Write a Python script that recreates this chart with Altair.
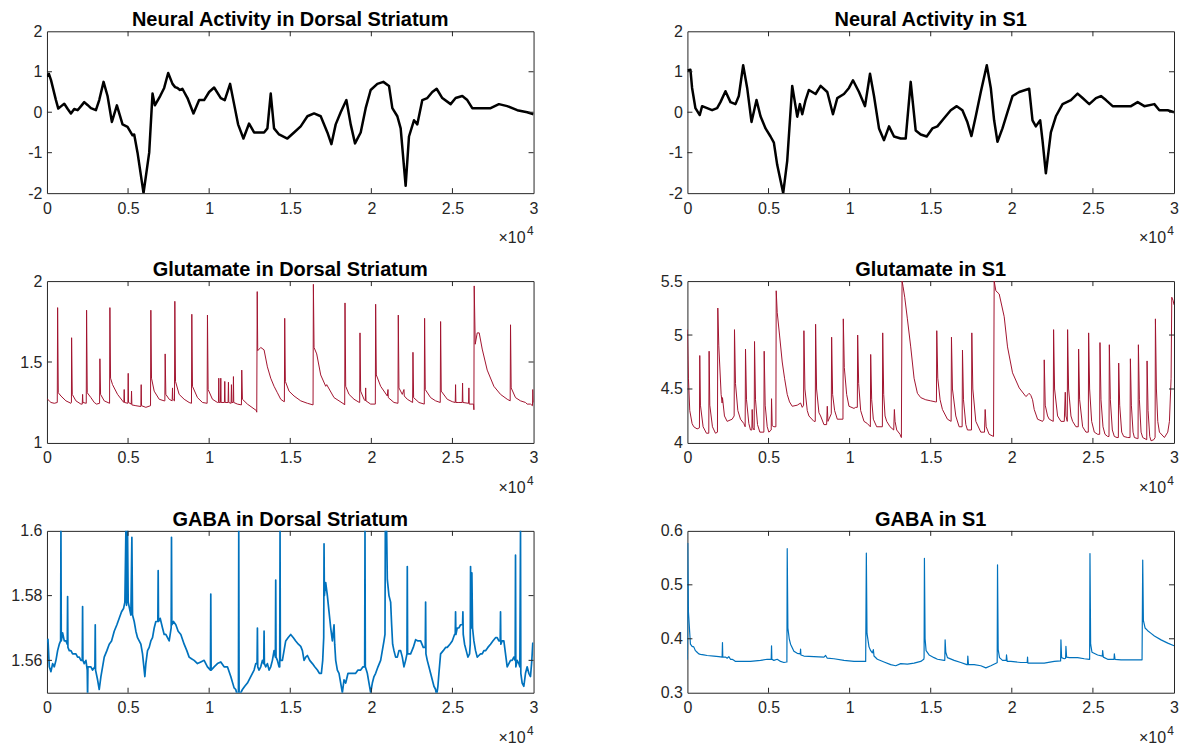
import altair as alt
import pandas as pd

# ---------------------------------------------------------------- data
# (sample index, value) pairs for each recorded trace

NA_DS = [(0, 0.88), (120, 0.95), (246, 0.80), (554, 0.30), (698, 0.09), (880, 0.15), (1068, 0.21),
         (1280, 0.08), (1478, -0.03), (1680, 0.08), (1889, 0.05), (2100, 0.15), (2299, 0.25),
         (2500, 0.18), (2710, 0.10), (3018, 0.05), (3223, 0.30), (3490, 0.75), (3736, 0.40),
         (4003, -0.24), (4311, 0.17), (4660, -0.30), (4968, -0.36), (5276, -0.57), (5379, -0.55),
         (5584, -1.00), (5954, -2.00), (6303, -1.00), (6508, 0.46), (6652, 0.17), (6980, 0.40),
         (7227, 0.60), (7473, 0.97), (7740, 0.70), (7900, 0.62), (8048, 0.60), (8200, 0.55),
         (8350, 0.58), (8458, 0.50), (8664, 0.35),
         (9033, -0.03), (9382, 0.30), (9690, 0.30), (9998, 0.50), (10306, 0.61), (10717, 0.35),
         (10963, 0.30), (11292, 0.70), (11538, 0.20), (11784, -0.30), (12113, -0.65), (12462, -0.28),
         (12770, -0.50), (13386, -0.50), (13591, -0.40), (13796, 0.46), (14001, -0.40), (14309, -0.55),
         (14822, -0.65), (15233, -0.50), (15644, -0.35), (16057, -0.10), (16468, -0.03), (16878, -0.10),
         (17289, -0.50), (17536, -0.79), (17802, -0.30), (18110, 0.00), (18460, 0.30), (18726, -0.30),
         (18993, -0.77), (19342, -0.50), (19650, 0.10), (19958, 0.55), (20369, 0.70), (20739, 0.75),
         (21088, 0.65), (21294, 0.10), (21602, -0.10), (21808, -0.40), (22114, -1.82), (22320, -0.60),
         (22628, -0.20), (22834, -0.30), (23142, 0.30), (23450, 0.35), (23758, 0.50), (24025, 0.58),
         (24374, 0.35), (24888, 0.20), (25196, 0.35), (25606, 0.40), (25914, 0.30), (26222, 0.10),
         (26736, 0.10), (27352, 0.10), (27866, 0.20), (28379, 0.15), (28995, 0.05), (29611, 0.00),
         (30000, -0.05)]

NA_S1 = [(0, 1.03), (185, 1.05), (288, 0.60), (494, 0.10), (761, -0.07), (906, 0.15), (1214, 0.10),
         (1523, 0.05), (1832, 0.10), (2037, 0.25), (2346, 0.52), (2655, 0.25), (2964, 0.20),
         (3169, 0.40), (3437, 1.16), (3684, 0.60), (3951, -0.24), (4260, 0.30), (4507, -0.10),
         (4816, -0.40), (5124, -0.60), (5330, -0.75), (5536, -1.30), (5906, -2.00), (6153, -1.20),
         (6462, 0.65), (6771, -0.11), (6935, 0.20), (7080, -0.05), (7285, 0.30), (7491, 0.55),
         (7903, 0.45), (8211, 0.65), (8623, 0.50), (8973, -0.05), (9240, 0.35), (9652, 0.45),
         (9961, 0.60), (10208, 0.79), (10578, 0.50), (10949, 0.15), (11257, 0.95), (11504, 0.40),
         (11813, -0.40), (12121, -0.69), (12430, -0.35), (12739, -0.60), (13150, -0.65), (13457, -0.65),
         (13766, 0.75), (14074, -0.45), (14383, -0.55), (14753, -0.60), (15103, -0.40), (15412, -0.35),
         (15823, -0.15), (16235, 0.05), (16605, 0.15), (16955, 0.05), (17264, -0.25), (17511, -0.59),
         (17778, -0.10), (18087, 0.50), (18457, 1.16), (18704, 0.60), (18910, -0.20), (19116, -0.73),
         (19424, -0.40), (19733, 0.00), (20042, 0.40), (20453, 0.50), (21070, 0.58), (21276, -0.20),
         (21482, -0.35), (21750, -0.20), (21894, -0.70), (22099, -1.51), (22408, -0.50), (22717, -0.10),
         (23129, 0.20), (23643, 0.30), (24055, 0.46), (24364, 0.35), (24775, 0.20), (25187, 0.35),
         (25495, 0.40), (25804, 0.30), (26216, 0.15), (26730, 0.15), (27347, 0.15), (27759, 0.25),
         (28171, 0.15), (28788, 0.20), (29097, 0.05), (29611, 0.05), (30000, 0.00)]

GLU_DS = [(0, 1.27), (41, 1.27), (144, 1.26), (246, 1.25), (452, 1.245), (636, 1.25), (657, 1.836),
          (698, 1.31), (862, 1.29), (1170, 1.26), (1478, 1.245), (1509, 1.25), (1519, 1.65),
          (1560, 1.30), (1786, 1.26), (2094, 1.24), (2176, 1.24), (2197, 1.30), (2217, 1.25),
          (2423, 1.245), (2443, 1.82), (2484, 1.31), (2710, 1.28), (2915, 1.25), (3059, 1.24),
          (3244, 1.245), (3264, 1.52), (3305, 1.30), (3531, 1.26), (3860, 1.245), (3880, 1.836),
          (3921, 1.40), (4044, 1.36), (4352, 1.30), (4660, 1.26), (4742, 1.25), (4763, 1.33),
          (4783, 1.25), (4989, 1.245), (5009, 1.43), (5030, 1.25), (5194, 1.24), (5215, 1.32),
          (5235, 1.235), (5482, 1.23), (5789, 1.225), (5810, 1.36), (5831, 1.23), (6097, 1.22),
          (6385, 1.23), (6405, 1.82), (6446, 1.40), (6611, 1.32), (6919, 1.27), (7227, 1.26),
          (7268, 1.26), (7288, 1.55), (7329, 1.30), (7535, 1.27), (7719, 1.26), (7740, 1.34),
          (7760, 1.27), (7863, 1.26), (7884, 1.875), (7925, 1.38), (8150, 1.30), (8458, 1.27),
          (8766, 1.25), (8910, 1.245), (8931, 1.795), (8972, 1.35), (9280, 1.28), (9588, 1.25),
          (9875, 1.245), (9895, 1.79), (9937, 1.33), (10203, 1.27), (10511, 1.25), (10573, 1.25),
          (10593, 1.40), (10614, 1.25), (10696, 1.25), (10717, 1.40), (10737, 1.25), (10942, 1.25),
          (10963, 1.38), (10984, 1.25), (11168, 1.25), (11189, 1.375), (11209, 1.25), (11353, 1.245),
          (11374, 1.36), (11394, 1.25), (11476, 1.25), (11497, 1.41), (11517, 1.25), (11743, 1.24),
          (11990, 1.235), (12010, 1.45), (12051, 1.27), (12359, 1.24), (12913, 1.20), (12934, 1.19),
          (12964, 1.935), (12995, 1.57), (13180, 1.59), (13386, 1.575), (13591, 1.47), (13796, 1.40),
          (14001, 1.35), (14207, 1.31), (14412, 1.27), (14617, 1.255), (14638, 1.255), (14658, 1.77),
          (14699, 1.38), (14925, 1.32), (15233, 1.29), (15646, 1.26), (16057, 1.245), (16406, 1.235),
          (16426, 1.98), (16467, 1.59), (16631, 1.55), (16878, 1.42), (17186, 1.35), (17247, 1.36),
          (17699, 1.28), (18007, 1.26), (18315, 1.24), (18356, 1.235), (18376, 1.865), (18418, 1.35),
          (18623, 1.30), (18931, 1.27), (19259, 1.25), (19280, 1.25), (19300, 1.68), (19341, 1.32),
          (19547, 1.27), (19629, 1.26), (19649, 1.34), (19670, 1.26), (19957, 1.24), (20245, 1.24),
          (20265, 1.857), (20306, 1.42), (20573, 1.35), (20984, 1.29), (21025, 1.33), (21045, 1.28),
          (21394, 1.25), (21641, 1.245), (21661, 1.79), (21702, 1.34), (21908, 1.30), (22010, 1.33),
          (22031, 1.29), (22216, 1.27), (22544, 1.25), (22565, 1.56), (22606, 1.28), (22934, 1.25),
          (23263, 1.24), (23283, 1.77), (23324, 1.33), (23653, 1.28), (23961, 1.26), (24248, 1.25),
          (24269, 1.75), (24310, 1.32), (24679, 1.27), (24987, 1.255), (25172, 1.25), (25192, 1.36),
          (25213, 1.25), (25398, 1.25), (25603, 1.25), (25624, 1.37), (25644, 1.25), (25993, 1.245),
          (26014, 1.34), (26034, 1.24), (26301, 1.24), (26322, 1.205), (26342, 1.97), (26404, 1.61),
          (26527, 1.68), (26650, 1.68), (26835, 1.58), (27143, 1.45), (27553, 1.35), (27964, 1.30),
          (28375, 1.27), (28559, 1.26), (28580, 1.73), (28621, 1.34), (28888, 1.28), (29196, 1.26),
          (29504, 1.25), (29606, 1.24), (29812, 1.24), (29935, 1.23), (29955, 1.33), (30000, 1.25)]

GLU_S1 = [(0, 5.05), (62, 4.60), (144, 4.30), (288, 4.18), (391, 4.15), (597, 4.13), (741, 4.14),
          (761, 4.81), (803, 4.35), (967, 4.15), (1173, 4.09), (1317, 4.09), (1338, 4.85), (1379, 4.35),
          (1544, 4.15), (1729, 4.09), (1852, 4.10), (1873, 5.25), (1935, 4.90), (2079, 4.45),
          (2140, 4.37), (2161, 4.42), (2284, 4.25), (2449, 4.20), (2758, 4.22), (2881, 4.25),
          (2902, 5.05), (2964, 4.55), (3108, 4.30), (3272, 4.22), (3478, 4.18), (3560, 4.15),
          (3581, 4.87), (3643, 4.40), (3787, 4.18), (3890, 4.12), (3972, 4.12), (3993, 4.31),
          (4034, 4.14), (4116, 4.12), (4137, 4.94), (4198, 4.40), (4322, 4.17), (4466, 4.10),
          (4713, 4.10), (4733, 4.85), (4795, 4.35), (4919, 4.15), (5022, 4.10), (5166, 4.12),
          (5186, 4.41), (5227, 4.16), (5330, 4.15), (5454, 4.15), (5474, 5.41), (5536, 5.21),
          (5680, 5.00), (5845, 4.75), (5989, 4.60), (6153, 4.45), (6297, 4.38), (6462, 4.34),
          (6771, 4.35), (6977, 4.37), (7080, 4.33), (7162, 4.35), (7182, 5.04), (7244, 4.50),
          (7388, 4.30), (7491, 4.25), (7800, 4.20), (7882, 4.20), (7903, 5.10), (7964, 4.50),
          (8108, 4.28), (8211, 4.25), (8417, 4.17), (8582, 4.17), (8623, 4.34), (8664, 4.20),
          (8870, 4.27), (8891, 4.98), (8952, 4.45), (9076, 4.30), (9240, 4.22), (9405, 4.22),
          (9590, 4.22), (9611, 5.15), (9673, 4.70), (9817, 4.45), (9961, 4.34), (10270, 4.32),
          (10372, 4.33), (10475, 4.33), (10496, 5.00), (10558, 4.55), (10681, 4.30), (10887, 4.20),
          (11093, 4.18), (11278, 4.15), (11299, 4.82), (11360, 4.40), (11463, 4.22), (11669, 4.15),
          (11875, 4.15), (12019, 4.15), (12040, 5.02), (12101, 4.45), (12184, 4.25), (12287, 4.20),
          (12492, 4.15), (12719, 4.12), (12760, 4.31), (12801, 4.20), (12904, 4.12), (13110, 4.08),
          (13151, 4.06), (13192, 4.05), (13233, 5.50), (13295, 5.45), (13398, 5.35), (13562, 5.15),
          (13768, 4.89), (13974, 4.60), (14180, 4.46), (14385, 4.42), (14694, 4.40), (15003, 4.39),
          (15312, 4.38), (15353, 4.38), (15373, 5.04), (15435, 4.60), (15579, 4.40), (15723, 4.31),
          (16032, 4.22), (16258, 4.20), (16279, 4.98), (16341, 4.50), (16546, 4.25), (16752, 4.15),
          (16937, 4.15), (16958, 4.86), (17020, 4.40), (17164, 4.17), (17267, 4.12), (17514, 4.12),
          (17534, 5.02), (17596, 4.50), (17781, 4.20), (18090, 4.10), (18316, 4.10), (18357, 4.31),
          (18419, 4.15), (18604, 4.08), (18872, 4.06), (18913, 5.50), (19016, 5.41), (19222, 5.38),
          (19530, 5.17), (19736, 4.89), (20044, 4.65), (20456, 4.51), (20867, 4.43), (21011, 4.45),
          (21073, 4.46), (21176, 4.44), (21279, 4.40), (21382, 4.31), (21588, 4.22), (21896, 4.20),
          (21978, 4.22), (21999, 4.77), (22061, 4.35), (22205, 4.25), (22308, 4.22), (22555, 4.20),
          (22575, 5.05), (22637, 4.50), (22822, 4.25), (23028, 4.20), (23234, 4.20), (23296, 4.47),
          (23337, 4.25), (23419, 4.20), (23440, 5.05), (23501, 4.50), (23646, 4.25), (23749, 4.20),
          (23954, 4.15), (24098, 4.15), (24119, 4.87), (24181, 4.40), (24366, 4.15), (24572, 4.10),
          (24716, 4.10), (24736, 5.02), (24798, 4.50), (24922, 4.20), (25086, 4.10), (25292, 4.08),
          (25416, 4.08), (25436, 4.93), (25498, 4.40), (25622, 4.15), (25745, 4.08), (25910, 4.06),
          (25992, 4.06), (26013, 4.91), (26075, 4.40), (26198, 4.12), (26322, 4.06), (26486, 4.05),
          (26569, 4.05), (26590, 4.74), (26651, 4.35), (26775, 4.10), (26898, 4.06), (27145, 4.05),
          (27289, 4.05), (27310, 4.78), (27372, 4.35), (27475, 4.10), (27557, 4.05), (27763, 4.04),
          (27783, 4.04), (27804, 4.91), (27866, 4.40), (27969, 4.10), (28072, 4.05), (28319, 4.03),
          (28339, 4.76), (28401, 4.30), (28504, 4.06), (28586, 4.02), (28751, 4.03), (28833, 4.05),
          (28854, 5.15), (28915, 4.50), (28998, 4.20), (29101, 4.10), (29409, 4.05), (29615, 4.10),
          (29718, 4.20), (29821, 4.60), (29862, 5.35), (29944, 5.32), (30000, 5.28)]

GABA_DS = [(0, 1.5655), (62, 1.5665), (144, 1.558), (246, 1.5565), (349, 1.559), (452, 1.558),
           (554, 1.560), (657, 1.563), (760, 1.565), (842, 1.566), (862, 1.600), (883, 1.566),
           (965, 1.5685), (1068, 1.566), (1170, 1.566), (1252, 1.565), (1273, 1.5797), (1293, 1.564),
           (1376, 1.563), (1478, 1.563), (1581, 1.562), (1786, 1.562), (1889, 1.561), (1991, 1.561),
           (2094, 1.560), (2176, 1.560), (2197, 1.5766), (2217, 1.560), (2299, 1.559), (2402, 1.560),
           (2484, 1.557), (2505, 1.548), (2525, 1.558), (2607, 1.558), (2710, 1.558), (2813, 1.557),
           (2956, 1.558), (2977, 1.571), (2997, 1.557), (3121, 1.554), (3223, 1.551), (3326, 1.555),
           (3429, 1.558), (3531, 1.561), (3695, 1.563), (3839, 1.565), (3983, 1.566), (4147, 1.569),
           (4311, 1.571), (4455, 1.573), (4599, 1.575), (4722, 1.576), (4804, 1.578), (4866, 1.600),
           (4907, 1.577), (4968, 1.600), (5009, 1.578), (5091, 1.576), (5174, 1.574), (5235, 1.598),
           (5276, 1.574), (5379, 1.572), (5482, 1.569), (5584, 1.567), (5687, 1.566), (5789, 1.565),
           (5892, 1.562), (6036, 1.555), (6097, 1.559), (6200, 1.563), (6303, 1.564), (6405, 1.566),
           (6508, 1.567), (6611, 1.570), (6713, 1.572), (6836, 1.572), (6857, 1.5877), (6878, 1.572),
           (6980, 1.573), (7124, 1.570), (7227, 1.568), (7329, 1.568), (7432, 1.567), (7535, 1.566),
           (7658, 1.570), (7678, 1.598), (7699, 1.571), (7801, 1.572), (7945, 1.571), (8089, 1.569),
           (8253, 1.568), (8458, 1.565), (8623, 1.563), (8766, 1.561), (8910, 1.5605), (9074, 1.560),
           (9280, 1.559), (9485, 1.5595), (9690, 1.560), (9895, 1.558), (10080, 1.557), (10100, 1.5805),
           (10121, 1.557), (10306, 1.558), (10511, 1.559), (10717, 1.5595), (10922, 1.558),
           (11127, 1.558), (11333, 1.555), (11538, 1.5515), (11641, 1.551), (11743, 1.549),
           (11805, 1.549), (11825, 1.600), (11846, 1.549), (11948, 1.550), (12051, 1.551),
           (12195, 1.552), (12359, 1.553), (12564, 1.555), (12770, 1.557), (12872, 1.559),
           (12954, 1.559), (12975, 1.570), (12995, 1.558), (13077, 1.557), (13180, 1.558),
           (13283, 1.560), (13365, 1.559), (13386, 1.569), (13406, 1.559), (13488, 1.558),
           (13591, 1.559), (13694, 1.557), (13796, 1.558), (13899, 1.560), (14001, 1.563),
           (14083, 1.561), (14104, 1.5848), (14124, 1.561), (14207, 1.560), (14309, 1.558),
           (14350, 1.558), (14371, 1.600), (14391, 1.560), (14515, 1.560), (14617, 1.563),
           (14720, 1.566), (14863, 1.567), (15028, 1.568), (15192, 1.567), (15336, 1.566),
           (15500, 1.565), (15646, 1.5643), (15749, 1.563), (15851, 1.560), (15954, 1.561),
           (16057, 1.5615), (16200, 1.560), (16365, 1.559), (16508, 1.558), (16673, 1.557),
           (16796, 1.556), (16919, 1.556), (17001, 1.560), (17063, 1.567), (17083, 1.596),
           (17104, 1.580), (17186, 1.584), (17288, 1.580), (17391, 1.575), (17494, 1.570),
           (17596, 1.566), (17699, 1.571), (17740, 1.565), (17802, 1.560), (17904, 1.557),
           (18007, 1.556), (18110, 1.553), (18212, 1.550), (18315, 1.554), (18418, 1.553),
           (18561, 1.556), (18726, 1.556), (18890, 1.556), (19033, 1.556), (19177, 1.557),
           (19341, 1.557), (19485, 1.558), (19588, 1.558), (19608, 1.600), (19629, 1.558),
           (19752, 1.556), (19855, 1.553), (19957, 1.550), (20060, 1.553), (20163, 1.555),
           (20265, 1.556), (20409, 1.558), (20573, 1.560), (20676, 1.563), (20779, 1.566),
           (20840, 1.568), (20861, 1.600), (20943, 1.600), (20984, 1.585), (21086, 1.580),
           (21189, 1.578), (21251, 1.571), (21312, 1.565), (21394, 1.563), (21497, 1.561),
           (21600, 1.561), (21702, 1.563), (21805, 1.563), (21908, 1.561), (22010, 1.558),
           (22113, 1.560), (22195, 1.562), (22216, 1.589), (22236, 1.562), (22318, 1.562),
           (22421, 1.562), (22585, 1.564), (22729, 1.5664), (22873, 1.566), (23037, 1.566),
           (23201, 1.564), (23324, 1.564), (23345, 1.578), (23365, 1.562), (23447, 1.560),
           (23550, 1.558), (23653, 1.556), (23755, 1.554), (23858, 1.552), (23961, 1.551),
           (24022, 1.549), (24104, 1.552), (24166, 1.556), (24269, 1.562), (24433, 1.563),
           (24577, 1.564), (24679, 1.564), (24843, 1.565), (24987, 1.566), (25131, 1.568),
           (25172, 1.568), (25192, 1.575), (25213, 1.568), (25295, 1.570), (25398, 1.570),
           (25500, 1.571), (25624, 1.571), (25644, 1.575), (25665, 1.568), (25747, 1.565),
           (25849, 1.563), (25952, 1.561), (26055, 1.562), (26096, 1.565), (26116, 1.589),
           (26157, 1.570), (26198, 1.587), (26239, 1.570), (26322, 1.566), (26424, 1.563),
           (26527, 1.561), (26630, 1.5615), (26732, 1.562), (26835, 1.562), (26938, 1.563),
           (27040, 1.563), (27184, 1.564), (27348, 1.565), (27492, 1.566), (27656, 1.567),
           (27759, 1.567), (27861, 1.566), (27943, 1.566), (27964, 1.575), (27984, 1.565),
           (28066, 1.566), (28169, 1.566), (28272, 1.562), (28375, 1.558), (28477, 1.559),
           (28580, 1.560), (28683, 1.560), (28785, 1.561), (28867, 1.560), (28888, 1.5925),
           (28908, 1.558), (28990, 1.560), (29093, 1.559), (29155, 1.558), (29196, 1.600),
           (29216, 1.556), (29298, 1.553), (29401, 1.552), (29504, 1.556), (29606, 1.558),
           (29709, 1.556), (29812, 1.555), (29894, 1.560), (29955, 1.5655)]

GABA_S1 = [(0, 0.361), (21, 0.577), (62, 0.450), (103, 0.430), (185, 0.390), (288, 0.386),
           (391, 0.385), (494, 0.378), (597, 0.375), (700, 0.372), (803, 0.371), (1008, 0.370),
           (1214, 0.369), (1626, 0.368), (1935, 0.367), (2140, 0.366), (2161, 0.393), (2181, 0.366),
           (2346, 0.366), (2449, 0.364), (2552, 0.367), (2655, 0.362), (2758, 0.362), (2861, 0.360),
           (2964, 0.358), (3272, 0.358), (3890, 0.358), (4507, 0.360), (4919, 0.362), (5124, 0.362),
           (5166, 0.362), (5186, 0.387), (5207, 0.362), (5330, 0.360), (5536, 0.362), (5742, 0.358),
           (5948, 0.356), (6112, 0.357), (6133, 0.357), (6153, 0.567), (6194, 0.420), (6277, 0.400),
           (6359, 0.390), (6565, 0.377), (6771, 0.373), (6956, 0.372), (6977, 0.381), (6997, 0.370),
           (7182, 0.368), (7800, 0.367), (8417, 0.366), (8520, 0.369), (8623, 0.364), (9035, 0.363),
           (9652, 0.360), (10270, 0.358), (10990, 0.358), (11031, 0.559), (11072, 0.410),
           (11196, 0.385), (11299, 0.378), (11402, 0.374), (11463, 0.380), (11504, 0.368),
           (11710, 0.362), (12121, 0.357), (12533, 0.352), (12842, 0.350), (13151, 0.354),
           (13562, 0.353), (13974, 0.355), (14385, 0.358), (14571, 0.362), (14591, 0.365),
           (14612, 0.549), (14653, 0.400), (14715, 0.378), (14900, 0.370), (15209, 0.365),
           (15415, 0.362), (15826, 0.360), (15867, 0.360), (15888, 0.398), (15929, 0.375),
           (16032, 0.365), (16444, 0.360), (16855, 0.356), (17226, 0.352), (17267, 0.352),
           (17287, 0.368), (17328, 0.352), (17678, 0.352), (18090, 0.350), (18398, 0.346),
           (18707, 0.350), (19057, 0.355), (19098, 0.356), (19119, 0.537), (19160, 0.380),
           (19242, 0.365), (19427, 0.360), (19654, 0.360), (19674, 0.370), (19715, 0.358),
           (19942, 0.358), (20559, 0.356), (20950, 0.356), (20970, 0.366), (20991, 0.355),
           (21382, 0.355), (22000, 0.355), (22617, 0.358), (23008, 0.359), (23028, 0.398),
           (23069, 0.365), (23234, 0.363), (23316, 0.364), (23337, 0.386), (23378, 0.366),
           (23543, 0.365), (24057, 0.365), (24469, 0.363), (24778, 0.362), (24798, 0.362),
           (24819, 0.558), (24860, 0.390), (24942, 0.375), (25292, 0.370), (25580, 0.368),
           (25601, 0.378), (25642, 0.366), (25910, 0.362), (26301, 0.362), (26322, 0.372),
           (26363, 0.362), (26733, 0.361), (27557, 0.361), (28030, 0.361), (28071, 0.546),
           (28112, 0.434), (28215, 0.420), (28380, 0.415), (28586, 0.410), (28792, 0.405),
           (29203, 0.398), (29615, 0.392), (30000, 0.387)]

X_TICKS = [0, 5000, 10000, 15000, 20000, 25000, 30000]

# ---------------------------------------------------------------- style
W, H = 487, 162
TICK_LEN = 5
BOX = "#262626"
FONT = "Liberation Sans"
BLACK, CRIMSON, BLUE = "#000000", "#A2142F", "#0072BD"


def panel(points, title, color, stroke, ydomain, yticks):
    df = pd.DataFrame(points, columns=["t", "v"])
    xs = alt.Scale(domain=[0, 30000], nice=False, zero=False)
    ys = alt.Scale(domain=ydomain, nice=False, zero=False)
    xaxis = alt.Axis(values=X_TICKS, labelExpr="'' + datum.value / 10000", title=None)
    yaxis = alt.Axis(values=yticks, labelExpr="'' + datum.value", title=None)

    trace = alt.Chart(df).mark_line(
        color=color, strokeWidth=stroke, strokeJoin="round", clip=True
    ).encode(
        x=alt.X("t:Q", scale=xs, axis=xaxis),
        y=alt.Y("v:Q", scale=ys, axis=yaxis),
    )

    # inward tick marks on all four sides of the box
    xt = pd.DataFrame({"t": X_TICKS[1:-1]})
    yt = pd.DataFrame({"v": [v for v in yticks if ydomain[0] < v < ydomain[1]]})
    rule = dict(color=BOX, strokeWidth=1)
    top = alt.Chart(xt).mark_rule(**rule).encode(
        x=alt.X("t:Q", scale=xs, axis=xaxis), y=alt.value(0), y2=alt.value(TICK_LEN))
    bottom = alt.Chart(xt).mark_rule(**rule).encode(
        x=alt.X("t:Q", scale=xs, axis=xaxis), y=alt.value(H), y2=alt.value(H - TICK_LEN))
    left = alt.Chart(yt).mark_rule(**rule).encode(
        y=alt.Y("v:Q", scale=ys, axis=yaxis), x=alt.value(0), x2=alt.value(TICK_LEN))
    right = alt.Chart(yt).mark_rule(**rule).encode(
        y=alt.Y("v:Q", scale=ys, axis=yaxis), x=alt.value(W), x2=alt.value(W - TICK_LEN))

    # exponent of the x axis: "×10" with a raised "4"
    base = alt.Chart(pd.DataFrame({"s": ["×10"]})).mark_text(
        align="right", baseline="alphabetic", font=FONT, fontSize=16, color=BOX
    ).encode(text="s:N", x=alt.value(W - 8), y=alt.value(H + 50))
    power = alt.Chart(pd.DataFrame({"s": ["4"]})).mark_text(
        align="right", baseline="alphabetic", font=FONT, fontSize=12, color=BOX
    ).encode(text="s:N", x=alt.value(W), y=alt.value(H + 42))

    return alt.layer(trace, top, bottom, left, right, base, power).properties(
        width=W, height=H,
        title=alt.TitleParams(title, offset=-7, fontSize=20),
    )


panels = [
    panel(NA_DS, "Neural Activity in Dorsal Striatum", BLACK, 2.5, [-2, 2], [-2, -1, 0, 1, 2]),
    panel(NA_S1, "Neural Activity in S1", BLACK, 2.5, [-2, 2], [-2, -1, 0, 1, 2]),
    panel(GLU_DS, "Glutamate in Dorsal Striatum", CRIMSON, 1.0, [1, 2], [1, 1.5, 2]),
    panel(GLU_S1, "Glutamate in S1", CRIMSON, 1.0, [4, 5.5], [4, 4.5, 5, 5.5]),
    panel(GABA_DS, "GABA in Dorsal Striatum", BLUE, 1.7, [1.55, 1.6], [1.56, 1.58, 1.6]),
    panel(GABA_S1, "GABA in S1", BLUE, 1.2, [0.3, 0.6], [0.3, 0.4, 0.5, 0.6]),
]

chart = alt.ConcatChart(
    concat=panels, columns=2, bounds="flush", spacing={"row": 88, "column": 154}
).properties(
    padding={"left": 10, "top": 9, "right": 5, "bottom": 2}, background="white"
).configure_view(
    stroke=BOX, strokeWidth=1
).configure_axis(
    domain=False, ticks=False, grid=False, labelFont=FONT, labelFontSize=16,
    labelColor=BOX, labelFlush=False, labelOverlap=False
).configure_axisX(
    labelPadding=7
).configure_axisY(
    labelPadding=5
).configure_title(
    font=FONT, fontWeight="bold", color="#000000", anchor="middle"
)

chart.save("out.html", embed_options={"renderer": "svg", "actions": False})
